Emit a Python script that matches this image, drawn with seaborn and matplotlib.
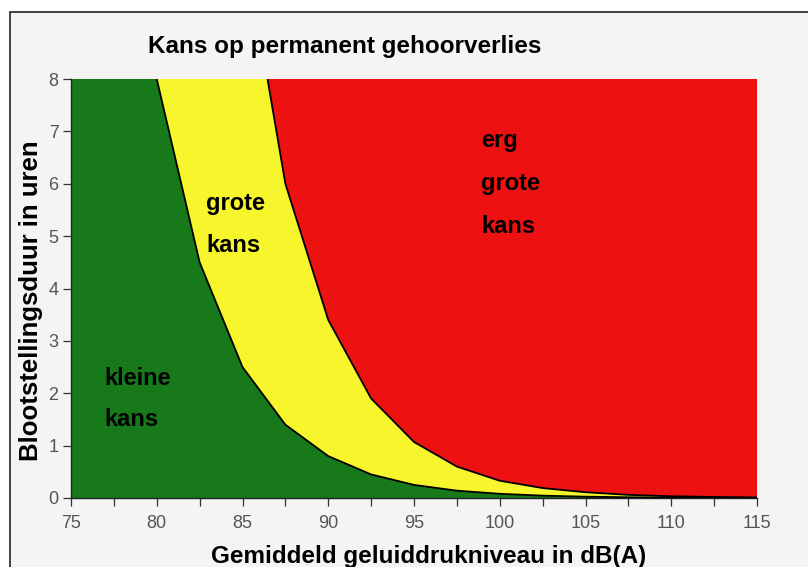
import matplotlib
matplotlib.use("Agg")
import matplotlib.pyplot as plt
import seaborn as sns
import numpy as np
from matplotlib.patches import Rectangle

sns.set_theme(style="white")
plt.rcParams['font.family'] = ['Liberation Sans', 'DejaVu Sans']

# Data
levels_db = [75, 77.5, 80, 82.5, 85, 87.5, 90, 92.5, 95, 97.5, 100,
             102.5, 105, 107.5, 110, 112.5, 115]
small_risk_limit = [25, 14, 8, 4.5, 2.5, 1.4, 0.8, 0.45, 0.25, 0.14, 0.08,
                    0.045, 0.025, 0.014, 0.008, 0.0045, 0.0025]
large_risk_limit = [100, 60, 34, 19, 10.8, 6.0, 3.4, 1.9, 1.07, 0.6, 0.33,
                    0.19, 0.11, 0.06, 0.033, 0.02, 0.01]
x_ticks = [75, 80, 85, 90, 95, 100, 105, 110, 115]
y_ticks = [0, 1, 2, 3, 4, 5, 6, 7, 8]

title = "Kans op permanent gehoorverlies"
xlabel = "Gemiddeld geluiddrukniveau in dB(A)"
ylabel = "Blootstellingsduur in uren"

green = "#17791a"
yellow = "#f7f52c"
red = "#ee1111"
bg = "#f4f4f4"

fig = plt.figure(figsize=(8.08, 5.67), dpi=100, facecolor="white")
fig.patches.append(Rectangle((10/808, -0.02), 1.0, 1 - 12/567 + 0.02,
                             transform=fig.transFigure, facecolor=bg,
                             edgecolor="#222222", linewidth=1.2, zorder=-10))
ax = fig.add_axes([71/808, 1 - 498/567, (757-71)/808, (498-79)/567])
ax.set_facecolor(bg)

x = np.array(levels_db)
lo = np.array(small_risk_limit)
hi = np.array(large_risk_limit)
ceiling = max(large_risk_limit) * 2

ax.fill_between(x, 0, lo, color=green, lw=0, zorder=1)
ax.fill_between(x, lo, hi, color=yellow, lw=0, zorder=1)
ax.fill_between(x, hi, ceiling, color=red, lw=0, zorder=1)
sns.lineplot(x=levels_db, y=small_risk_limit, ax=ax, color="black", lw=1.3, zorder=3)
sns.lineplot(x=levels_db, y=large_risk_limit, ax=ax, color="black", lw=1.3, zorder=3)

ax.set_xlim(75, 115)
ax.set_ylim(0, 8)
ax.set_xticks(x_ticks)
ax.set_xticks(np.arange(77.5, 115, 5), minor=True)
ax.set_yticks(y_ticks)
ax.tick_params(axis="both", which="both", direction="out", length=6, width=0.9,
               color="#333333", labelcolor="#555555", labelsize=13,
               bottom=True, left=True)
ax.tick_params(axis="x", pad=6)
ax.tick_params(axis="y", pad=3)
for s in ["top", "right"]:
    ax.spines[s].set_visible(False)
for s in ["left", "bottom"]:
    ax.spines[s].set_color("#222222")
    ax.spines[s].set_linewidth(1.0)

ax.set_xlabel(xlabel, fontsize=17.5, fontweight="bold", color="black")
ax.set_ylabel(ylabel, fontsize=18.5, fontweight="bold", color="black")
ax.xaxis.label.set_va("center")
ax.xaxis.set_label_coords((428.5 - 71) / 686, (498 - 557) / 419)
ax.yaxis.label.set_va("center")
ax.yaxis.set_label_coords((31 - 71) / 686, (498 - 301) / 419)
fig.text(148/808, 1 - 47/567, title, fontsize=17.5, fontweight="bold",
         ha="left", va="center", color="black")

kw = dict(fontsize=17, fontweight="bold", ha="left", va="center", color="black", zorder=5)
ax.text(76.95, 2.29, "kleine", **kw)
ax.text(76.95, 1.49, "kans", **kw)
ax.text(82.9, 5.63, "grote", **kw)
ax.text(82.9, 4.83, "kans", **kw)
ax.text(98.9, 6.83, "erg", **kw)
ax.text(98.9, 6.01, "grote", **kw)
ax.text(98.9, 5.19, "kans", **kw)

fig.savefig("out.png", dpi=100, facecolor=fig.get_facecolor())
